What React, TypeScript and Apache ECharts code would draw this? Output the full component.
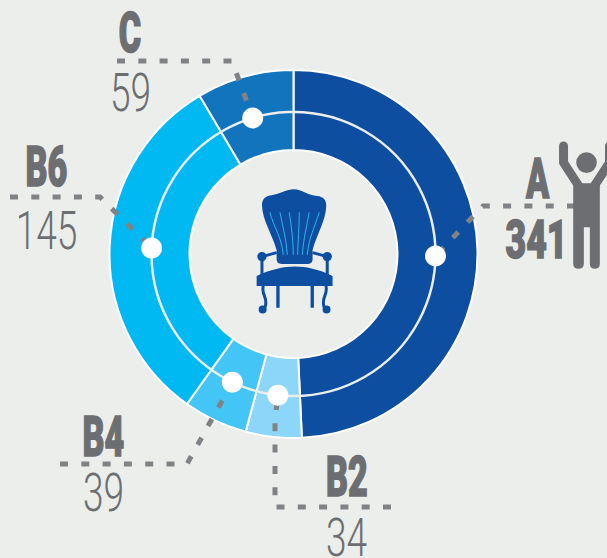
import React, { useEffect, useRef } from "react";
import * as echarts from "echarts";

const categories = ["A", "B2", "B4", "B6", "C"];
const labelValues = ["341", "34", "39", "145", "59"];
// Angular extent: the B6 slice is drawn wider than its printed 145.
const arcValues = [341, 34, 39, 219, 59];
const sliceColors = ["#0D4EA1", "#8CD6F9", "#43C6F6", "#00B9F2", "#1174BD"];
// Where each white dot sits on the middle ring, degrees clockwise from the top
const dotAngles = [90.8, 186.3, 205.5, 272.4, 343.3];

const BG = "#ECEEEC";
const GREY = "#6D6E71";
const DASH = "#808285";
const CX = 293.5;
const CY = 254;
const R_IN = 104;
const R_OUT = 184;
const R_MID = 142;

const anchors = dotAngles.map((deg) => {
  const a = (deg * Math.PI) / 180;
  return [CX + R_MID * Math.sin(a), CY - R_MID * Math.cos(a)];
});

// Leader routes, label end first, ending at the slice's dot
const leaderRoutes: number[][][] = [
  [[575, 206], [483, 206]],
  [[391, 507], [275, 507], [275, 420]],
  [[60, 464], [187, 464]],
  [[10, 197], [100, 197]],
  [[117, 61], [232, 61]],
];

const boldLabels = [
  { i: 0, x: 537.5, y: 179.5 },
  { i: 1, x: 347, y: 477 },
  { i: 2, x: 103.5, y: 437 },
  { i: 3, x: 46.5, y: 167.5 },
  { i: 4, x: 130, y: 33 },
];
const numberLabels = [
  { i: 0, x: 536.5, y: 240, bold: true },
  { i: 1, x: 346.5, y: 538 },
  { i: 2, x: 103.5, y: 493.5 },
  { i: 3, x: 46.5, y: 231 },
  { i: 4, x: 130.5, y: 93 },
];

const chairBody =
  "M96 105C96 85 110 77 125 76C150 72 170 58 192 58C215 58 235 78 262 78C280 80 290 90 289 108C288 150 262 190 248 240L248 270Q246 282 232 282L155 282Q140 282 140 268L140 240C125 190 97 150 96 105Z" +
  "M80 318C120 300 160 290 195 290C230 290 270 300 308 318L308 348L80 348Z" +
  "M139 348L149 348L149 414L139 414Z M242 348L252 348L252 414L242 414Z" +
  "M110 260A14 14 0 1 1 82 260A14 14 0 1 1 110 260Z M306 260A14 14 0 1 1 278 260A14 14 0 1 1 306 260Z" +
  "M110 419A12 12 0 1 1 86 419A12 12 0 1 1 110 419Z M302 419A12 12 0 1 1 278 419A12 12 0 1 1 302 419Z";
const chairStroke =
  "M96 260L96 320M292 260L292 320M96 260L140 248M292 260L248 248" +
  "M100 348C92 375 118 385 104 415M288 348C296 375 270 385 284 415";
const chairRibs =
  "M120 127C130 170 155 200 160 255M150 127C158 170 170 210 172 255M178 127C184 170 190 210 190 255" +
  "M208 127C208 170 204 210 203 255M238 127C230 170 220 210 217 255M268 127C255 170 236 205 232 255";
const personBody =
  "M400 190L480 190L480 432Q480 447 465 447Q450 447 450 432L450 322L432 322L432 432Q432 447 416 447Q400 447 400 432Z" +
  "M471 128A31 31 0 1 1 409 128A31 31 0 1 1 471 128Z";
const personArms = "M371 78L371 128L418 200M509 78L509 128L462 200";

echarts.graphic.registerShape("chairBody", echarts.graphic.extendPath(chairBody, {}));
echarts.graphic.registerShape("chairStroke", echarts.graphic.extendPath(chairStroke, {}));
echarts.graphic.registerShape("chairRibs", echarts.graphic.extendPath(chairRibs, {}));
echarts.graphic.registerShape("personBody", echarts.graphic.extendPath(personBody, {}));
echarts.graphic.registerShape("personArms", echarts.graphic.extendPath(personArms, {}));

export default function App() {
  const ref = useRef<HTMLDivElement>(null);
  useEffect(() => {
    const chart = echarts.init(ref.current!, undefined, { renderer: "svg" });
    const third = { scaleX: 1 / 3, scaleY: 1 / 3 };
    const graphics: any[] = [
      {
        type: "circle",
        z: 10,
        shape: { cx: CX, cy: CY, r: R_MID },
        style: { fill: "none", stroke: BG, lineWidth: 2.5 },
      },
      ...leaderRoutes.map((route, i) => ({
        type: "polyline",
        z: 11,
        shape: { points: [...route, anchors[i]] },
        style: { fill: "none", stroke: DASH, lineWidth: 5, lineDash: [8, 13.3] },
      })),
      ...anchors.map((p) => ({
        type: "circle",
        z: 12,
        shape: { cx: p[0], cy: p[1], r: 10.5 },
        style: { fill: "#FFFFFF" },
      })),
      { type: "chairBody", z: 12, x: 230, y: 170, ...third, style: { fill: "#0D4EA1" } },
      { type: "chairStroke", z: 12, x: 230, y: 170, ...third, style: { fill: "none", stroke: "#0D4EA1", lineWidth: 9 } },
      { type: "chairRibs", z: 13, x: 230, y: 170, ...third, style: { fill: "none", stroke: "#2BB3E8", lineWidth: 3 } },
      { type: "personBody", z: 12, x: 440, y: 120, ...third, style: { fill: GREY } },
      { type: "personArms", z: 12, x: 440, y: 120, ...third, style: { fill: "none", stroke: GREY, lineWidth: 27, lineCap: "round", lineJoin: "round" } },
      ...boldLabels.map((l) => ({
        type: "text",
        z: 14,
        x: l.x,
        y: l.y,
        scaleX: 0.62,
        style: {
          text: categories[l.i],
          font: "900 55px Roboto",
          lineHeight: 40,
          fill: GREY,
          stroke: GREY,
          lineWidth: 1.5,
          textAlign: "center",
          textVerticalAlign: "middle",
        },
      })),
      ...numberLabels.map((l) => ({
        type: "text",
        z: 14,
        x: l.x,
        y: l.y,
        scaleX: l.bold ? 0.66 : 0.7,
        style: {
          text: labelValues[l.i],
          font: `${l.bold ? 900 : 300} ${l.bold ? 54 : 53}px Roboto`,
          lineHeight: 39,
          fill: GREY,
          textAlign: "center",
          textVerticalAlign: "middle",
          ...(l.bold ? { stroke: GREY, lineWidth: 1.5 } : {}),
        },
      })),
    ];
    chart.setOption({
      animation: false,
      backgroundColor: BG,
      series: [
        {
          type: "pie",
          silent: true,
          center: [CX, CY],
          radius: [R_IN, R_OUT],
          startAngle: 90,
          clockwise: true,
          label: { show: false },
          labelLine: { show: false },
          itemStyle: { borderColor: "#FFFFFF", borderWidth: 2 },
          data: categories.map((name, i) => ({
            name,
            value: arcValues[i],
            itemStyle: { color: sliceColors[i] },
          })),
        },
      ],
      graphic: { elements: graphics },
    });
    return () => chart.dispose();
  }, []);
  return (
    <div
      ref={ref}
      style={{ position: "fixed", left: 0, top: 0, width: 607, height: 558 }}
    />
  );
}
